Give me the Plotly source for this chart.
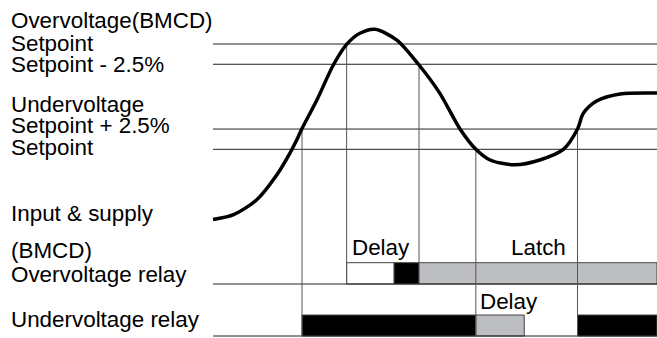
import plotly.graph_objects as go

# ---------------- data ----------------
# time axis in arbitrary units (0 .. 100), voltage in % relative to UV setpoint
curve_t = [0.0, 4.5, 9.8, 14.35, 17.3, 18.85, 20.05, 23.4, 27.1, 30.1, 33.1, 36.5,
           41.4, 46.4, 51.1, 55.6, 59.2, 62.4, 68.0, 73.6, 78.9, 82.1, 83.4, 86.4,
           91.7, 100.0]
curve_v = [-8.67, -8.10, -6.26, -3.17, -0.49, 1.15, 2.57, 6.09, 10.41, 12.96, 14.32,
           14.81, 13.49, 10.41, 6.91, 2.54, 0.0, -1.32, -1.91, -1.32, -0.02, 2.51,
           4.44, 5.96, 6.83, 6.95]

level_names = ["OV", "OV-2.5", "UV+2.5", "UV"]
level_values = [13.0, 10.5, 2.5, 0.0]

# event times
t_uv_ok = 20.05        # rises above UV setpoint + 2.5%
t_ov_trip = 30.1       # exceeds OV setpoint
t_ov_delay_end = 40.8
t_ov_release = 46.4    # falls below OV setpoint - 2.5%
t_uv_trip = 59.2       # falls below UV setpoint
t_uv_delay_end = 70.1
t_uv_recover = 82.1    # rises above UV setpoint + 2.5%
t_end = 100.0

# relay segments: (start, end, state)
ov_segments = [(t_ov_trip, t_ov_delay_end, "delay"),
               (t_ov_delay_end, t_ov_release, "on"),
               (t_ov_release, t_end, "latch")]
uv_segments = [(t_uv_ok, t_uv_trip, "on"),
               (t_uv_trip, t_uv_delay_end, "latch"),
               (t_uv_recover, t_end, "on")]

left_labels = ["Overvoltage(BMCD)", "Setpoint", "Setpoint - 2.5%",
               "Undervoltage", "Setpoint + 2.5%", "Setpoint",
               "Input & supply", "(BMCD)", "Overvoltage relay", "Undervoltage relay"]
chart_labels = ["Delay", "Latch", "Delay"]

# ---------------- layout mapping ----------------
W, H = 657, 338
X0_PX, X1_PX = 213.0, 657.0
PX_PER_T = (X1_PX - X0_PX) / 100.0
Y0_PX = 149.3            # pixel of v = 0
PX_PER_V = 8.1
x_range = [-X0_PX / PX_PER_T, (W - X0_PX) / PX_PER_T]
y_range = [(Y0_PX - H) / PX_PER_V, Y0_PX / PX_PER_V]


def py(p):
    return (Y0_PX - p) / PX_PER_V


def px(p):
    return (p - X0_PX) / PX_PER_T


FS = 22.4
FONT = dict(family="Arial, Liberation Sans, sans-serif", size=FS, color="black")

ov_base, ov_top = py(284.0), py(262.7)
uv_base, uv_top = py(336.0), py(315.0)

fills = {"delay": "white", "on": "black", "latch": "#bdbec1"}

fig = go.Figure()

# level lines
for v in level_values:
    fig.add_trace(go.Scatter(x=[0, t_end], y=[v, v], mode="lines",
                             line=dict(color="#222222", width=1), hoverinfo="skip",
                             showlegend=False))
# relay baselines
for b in (ov_base, uv_base):
    fig.add_trace(go.Scatter(x=[0, t_end], y=[b, b], mode="lines",
                             line=dict(color="#222222", width=1), hoverinfo="skip",
                             showlegend=False))

# vertical event lines
lv = dict(zip(level_names, level_values))
vlines = [(t_uv_ok, lv["UV+2.5"], uv_base),
          (t_ov_trip, lv["OV"], ov_base),
          (t_ov_release, lv["OV-2.5"], ov_top),
          (t_uv_trip, lv["UV"], uv_base),
          (t_uv_recover, lv["UV+2.5"], uv_base)]
for t, a, b in vlines:
    fig.add_trace(go.Scatter(x=[t, t], y=[a, b], mode="lines",
                             line=dict(color="#555555", width=1), hoverinfo="skip",
                             showlegend=False))

# relay bars
for segs, base, top in ((ov_segments, ov_base, ov_top), (uv_segments, uv_base, uv_top)):
    for s, e, state in segs:
        fig.add_trace(go.Bar(orientation="h", y=[(base + top) / 2], x=[e - s], base=[s],
                             width=[top - base], marker=dict(color=fills[state],
                             line=dict(color="#444444", width=1)),
                             hoverinfo="skip", showlegend=False))

# input curve
fig.add_trace(go.Scatter(x=curve_t, y=curve_v, mode="lines",
                         line=dict(color="black", width=3.5, shape="spline", smoothing=0.8),
                         hoverinfo="skip", showlegend=False))

# labels (baseline pixel -> middle)
left_baselines = [28.3, 50.9, 72.7, 111.9, 133.4, 155.7, 221.0, 258.5, 281.9, 327.0]
for txt, b in zip(left_labels, left_baselines):
    fig.add_annotation(x=px(8.8), y=py(b - 0.3465 * FS), text=txt, showarrow=False,
                       xanchor="left", yanchor="middle", font=FONT)

chart_pos = [(349.5, 255.7), (508.7, 255.7), (478.3, 309.3)]
for txt, (xx, b) in zip(chart_labels, chart_pos):
    fig.add_annotation(x=px(xx), y=py(b - 0.3465 * FS), text=txt, showarrow=False,
                       xanchor="left", yanchor="middle", font=FONT)

fig.update_layout(width=W, height=H, margin=dict(l=0, r=0, t=0, b=0),
                  paper_bgcolor="white", plot_bgcolor="white", barmode="overlay",
                  xaxis=dict(range=x_range, visible=False, fixedrange=True),
                  yaxis=dict(range=y_range, visible=False, fixedrange=True),
                  showlegend=False)

fig.write_html("out.html", config={"displayModeBar": False},
               post_script="document.body.style.margin='0';document.body.style.overflow='hidden';")
